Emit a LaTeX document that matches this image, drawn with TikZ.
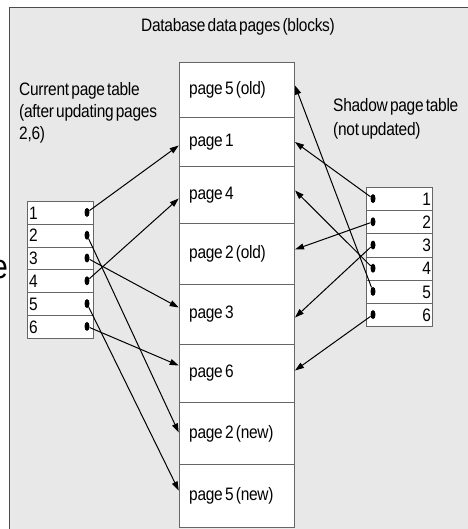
\documentclass[tikz,border=0pt]{standalone}
\usepackage{fontspec}
\setmainfont{Liberation Sans}[FakeStretch=0.86, LetterSpace=-1.5, WordSpace=0.55]
\usetikzlibrary{arrows.meta,shapes.geometric}

\begin{document}
\begin{tikzpicture}[x=1pt,y=-1pt,
  every node/.style={font=\fontsize{18}{20}\selectfont},
  frame/.style={draw=black!70, line width=1.6pt, fill=black!9},
  pagecell/.style={draw=black!60, line width=1pt, fill=white, minimum width=115.3pt,
    text width=95.3pt, inner xsep=10pt, inner ysep=0pt, align=left, anchor=north west,
    execute at begin node={\spaceskip=0pt\xspaceskip=0pt\relax}},
  slot/.style={draw=black!60, line width=1pt, fill=white, minimum width=66pt,
    minimum height=22.8pt, text width=63pt, inner xsep=1.5pt, inner ysep=0pt, anchor=north west},
  lslot/.style={slot, align=left},
  rslot/.style={slot, align=right, minimum height=23.2pt},
  ptr/.style={ellipse, fill=black, minimum width=5pt, minimum height=9pt, inner sep=0pt},
  link/.style={-{Triangle[length=9pt,width=6pt]}, line width=1pt}
]
\useasboundingbox (0,0) rectangle (467,529);

% enclosing area of the database pages
\draw[frame] (9.5,7.5) rectangle (500,560);
\node[anchor=east, inner sep=0pt, font=\fontsize{34}{34}\selectfont] (cut) at (8,270) {e};

\node[anchor=base] (title) at (238,32) {Database data pages (blocks)};
\node[anchor=north west, align=left, inner sep=0pt, font=\fontsize{18}{22}\selectfont]
  (curlbl) at (19,82) {Current page table\\(after updating pages\\2,6)};
\node[anchor=north west, align=left, inner sep=0pt, font=\fontsize{18}{24}\selectfont]
  (shdlbl) at (333,98) {Shadow page table\\(not updated)};

% data pages column
\node[pagecell, minimum height=55pt] (p5old) at (178.7,62)  {page 5 (old)};
\node[pagecell, minimum height=49pt] (p1)    at (178.7,117) {page 1};
\node[pagecell, minimum height=57pt] (p4)    at (178.7,166) {page 4};
\node[pagecell, minimum height=61pt] (p2old) at (178.7,223) {page 2 (old)};
\node[pagecell, minimum height=60pt] (p3)    at (178.7,284) {page 3};
\node[pagecell, minimum height=58pt] (p6)    at (178.7,344) {page 6};
\node[pagecell, minimum height=62pt] (p2new) at (178.7,402) {page 2 (new)};
\node[pagecell, minimum height=63pt] (p5new) at (178.7,464) {page 5 (new)};

% current page table
\node[lslot] (c1) at (27,201)   {1};
\node[lslot] (c2) at (27,223.8) {2};
\node[lslot] (c3) at (27,246.6) {3};
\node[lslot] (c4) at (27,269.4) {4};
\node[lslot] (c5) at (27,292.2) {5};
\node[lslot] (c6) at (27,315)   {6};
\foreach \i/\y in {1/212.4,2/235.2,3/258,4/280.8,5/303.6,6/326.4}
  \node[ptr] (l\i) at (87,\y) {};

% shadow page table
\node[rslot] (s1) at (366,187)   {1};
\node[rslot] (s2) at (366,210.2) {2};
\node[rslot] (s3) at (366,233.4) {3};
\node[rslot] (s4) at (366,256.6) {4};
\node[rslot] (s5) at (366,279.8) {5};
\node[rslot] (s6) at (366,303)   {6};
\foreach \i/\y in {1/198.6,2/221.8,3/245,4/268.2,5/291.4,6/314.6}
  \node[ptr] (r\i) at (373,\y) {};

% current table pointers
\draw[link] (l1) -- ([yshift=-3.5pt]p1.west);
\draw[link] (l2) -- ([yshift=1pt]p2new.west);
\draw[link] (l3) -- ([yshift=7pt]p3.west);
\draw[link] (l4) -- ([yshift=-3.5pt]p4.west);
\draw[link] (l5) -- ([yshift=5.5pt]p5new.west);
\draw[link] (l6) -- ([yshift=8pt]p6.west);

% shadow table pointers
\draw[link] (r1) -- (p1.east);
\draw[link] (r2) -- ([yshift=4.5pt]p2old.east);
\draw[link] (r3) -- ([yshift=-3pt]p3.east);
\draw[link] (r4) -- ([yshift=4.5pt]p4.east);
\draw[link] (r5) -- ([yshift=4.5pt]p5old.east);
\draw[link] (r6) -- ([yshift=3pt]p6.east);
\end{tikzpicture}
\end{document}
